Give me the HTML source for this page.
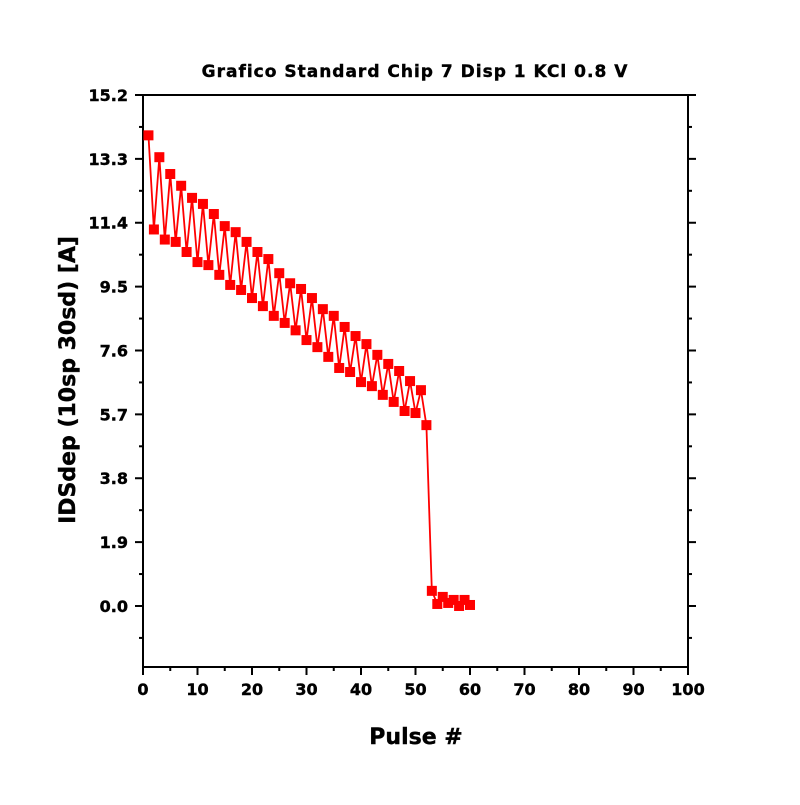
<!DOCTYPE html>
<html><head><meta charset="utf-8"><style>
body{margin:0;background:#fff}
svg text{font-family:"DejaVu Sans","Liberation Sans",sans-serif;font-weight:bold;fill:#000;stroke:#000;stroke-width:0.4}
</style></head><body>
<svg id="chart" width="800" height="800" xmlns="http://www.w3.org/2000/svg">
<text x="415" y="77" font-size="17" letter-spacing="1" text-anchor="middle">Grafico Standard Chip 7 Disp 1 KCl 0.8 V</text>
<text x="416" y="744" font-size="22" text-anchor="middle">Pulse #</text>
<text transform="translate(75,380) rotate(-90)" font-size="22" text-anchor="middle">IDSdep (10sp 30sd) [A]</text>
<g id="axes"></g>
<g id="series"></g>
</svg>
<script>
const xTicks=[0,10,20,30,40,50,60,70,80,90,100];
const yTicks=[0.0,1.9,3.8,5.7,7.6,9.5,11.4,13.3,15.2];
const yTickLabels=["0.0","1.9","3.8","5.7","7.6","9.5","11.4","13.3","15.2"];
const pulses=[];for(let i=1;i<=60;i++)pulses.push(i);
const ids=[14.0,11.2,13.35,10.9,12.85,10.83,12.5,10.53,12.14,10.23,11.96,10.14,11.66,9.85,11.3,9.55,11.12,9.4,10.83,9.16,10.53,8.92,10.32,8.63,9.9,8.42,9.6,8.2,9.43,7.91,9.16,7.7,8.83,7.41,8.63,7.08,8.3,6.96,8.03,6.66,7.79,6.54,7.47,6.28,7.2,6.07,6.99,5.8,6.69,5.74,6.42,5.38,0.45,0.06,0.27,0.09,0.18,0.0,0.18,0.03];
const L=143,R=688,T=95,B=667;
const YMIN=-1.815,YMAX=15.2;
const xs=v=>L+(v-0)/100*(R-L);
const ys=v=>B-(v-YMIN)/(YMAX-YMIN)*(B-T);
const NS="http://www.w3.org/2000/svg";
function mk(tag,attrs,parent){const e=document.createElementNS(NS,tag);for(const k in attrs)e.setAttribute(k,attrs[k]);parent.appendChild(e);return e;}
const ax=document.getElementById('axes');
const frame=mk('rect',{x:L,y:T,width:R-L,height:B-T,fill:'none',stroke:'#000','stroke-width':2},ax);


xTicks.forEach((t,i)=>{
  const x=xs(t);
  const tk=mk('line',{x1:x,x2:x,y1:B,y2:B+8,stroke:'#000','stroke-width':2},ax);
  
  
  if(i<xTicks.length-1){const xm=xs(t+5);const m=mk('line',{x1:xm,x2:xm,y1:B,y2:B+4,stroke:'#000','stroke-width':2},ax);
  
  }
  const lb=mk('text',{x:x,y:B+28,'font-size':16,'text-anchor':'middle'},ax);lb.textContent=t;
  
  
});
yTicks.forEach((t,i)=>{
  const y=ys(t);
  [[L,L-8],[R,R+8]].forEach(p=>{const tk=mk('line',{x1:p[0],x2:p[1],y1:y,y2:y,stroke:'#000','stroke-width':2},ax);
  
  });
  const lb=mk('text',{x:L-15,y:y+6,'font-size':16,'text-anchor':'end'},ax);lb.textContent=yTickLabels[i];
  
  
});
for(let v=-0.95;v<15.2;v+=1.9){const y=ys(v);
  [[L,L-4],[R,R+4]].forEach(p=>{const m=mk('line',{x1:p[0],x2:p[1],y1:y,y2:y,stroke:'#000','stroke-width':2},ax);
  
  });}
const sg=document.getElementById('series');
const pts=pulses.map((p,i)=>xs(p)+','+ys(ids[i])).join(' ');
const line=mk('polyline',{points:pts,fill:'none',stroke:'#ff0000','stroke-width':1.8},sg);


pulses.forEach((p,i)=>{const r=mk('rect',{x:xs(p)-5,y:ys(ids[i])-5,width:10,height:10,fill:'#ff0000'},sg);
  
  });
</script>
</body></html>
